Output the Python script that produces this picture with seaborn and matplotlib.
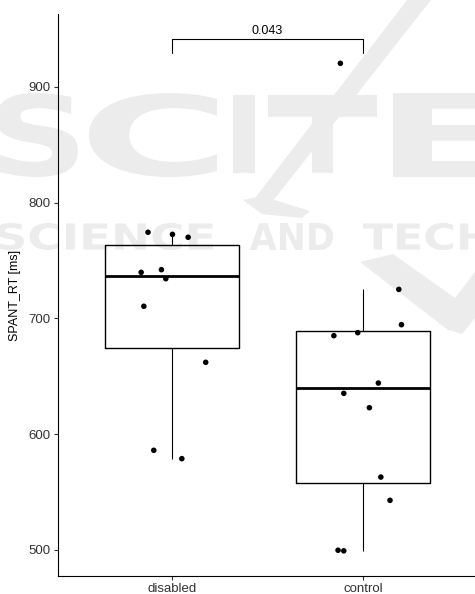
import numpy as np
import pandas as pd
import matplotlib
matplotlib.use('Agg')
import matplotlib.pyplot as plt
import seaborn as sns
from matplotlib.textpath import TextPath
from matplotlib.patches import PathPatch, Polygon
from matplotlib.font_manager import FontProperties
from matplotlib.transforms import Affine2D

# values
groups = ['disabled', 'control']
disabled_rt = [774.3, 772.5, 770.0, 742.0, 739.7, 734.2, 710.4, 662.0, 586.0, 578.8]
disabled_jit = [-0.126, 0.002, 0.084, -0.056, -0.162, -0.033, -0.148, 0.176, -0.096, 0.051]
control_rt = [920.2, 725.0, 694.5, 687.6, 685.0, 644.1, 635.2, 622.8, 562.9, 542.8, 499.7, 499.2]
control_jit = [-0.119, 0.187, 0.201, -0.028, -0.153, 0.080, -0.101, 0.033, 0.093, 0.141, -0.131, -0.101]
p_label = '0.043'

df = pd.DataFrame({
    'group': ['disabled'] * len(disabled_rt) + ['control'] * len(control_rt),
    'SPANT_RT': disabled_rt + control_rt,
    'jit': disabled_jit + control_jit,
})
df['pos'] = df['group'].map({g: i for i, g in enumerate(groups)})
df['x'] = df['pos'] + df['jit']

sns.set_theme(style='ticks')
plt.rcParams['font.family'] = ['Liberation Sans', 'DejaVu Sans']

W, H = 475, 594
fig = plt.figure(figsize=(W / 100, H / 100), dpi=100)
ax = fig.add_axes([57.5 / W, (H - 576.3) / H, (W - 57.5) / W, (576.3 - 14) / H])
ax.set_facecolor('none')

# faint publisher watermark behind the plot (pixel coords, from top-left)
wm_color = '#ececec'
wm_font = FontProperties(family='DejaVu Sans', weight='bold')

def stamp(text, left, top, right, bottom):
    path = TextPath((0, 0), text, size=1, prop=wm_font)
    ext = path.get_extents()
    tr = (Affine2D().translate(-ext.x0, -ext.y0)
          .scale((right - left) / ext.width / W, (bottom - top) / ext.height / H)
          .translate(left / W, 1 - bottom / H))
    fig.patches.append(PathPatch(tr.transform_path(path), transform=fig.transFigure,
                                 fc=wm_color, ec='none', zorder=-5))

def blob(pts):
    xy = [(x / W, 1 - y / H) for x, y in pts]
    fig.patches.append(Polygon(xy, closed=True, transform=fig.transFigure,
                               fc=wm_color, ec='none', zorder=-5))

for ch, l, r in [('S', -4, 78), ('C', 89, 217), ('E', 393, 500)]:
    stamp(ch, l, 93, r, 177)
blob([(233, 95), (255, 95), (255, 173), (233, 173)])          # I
blob([(268, 95), (377, 95), (377, 117), (268, 117)])          # T bar
blob([(312, 117), (333, 117), (333, 173), (312, 173)])        # T stem
blob([(407, 0), (431, 0), (272, 202), (252, 202)])            # slash
blob([(243, 200), (262, 196), (310, 211), (302, 218), (262, 214)])
blob([(360, 262), (393, 254), (455, 298), (475, 272), (475, 318),
      (462, 334), (448, 330)])
stamp('SCIENCE', -3, 223, 213, 250)
stamp('AND', 250, 223, 333, 250)
stamp('TECHNOLOGY', 363, 223, 700, 250)

sns.boxplot(data=df, x='pos', y='SPANT_RT', native_scale=True, width=0.7,
            fill=False, color='black', linecolor='black', linewidth=1.0,
            showfliers=False, showcaps=False,
            medianprops=dict(linewidth=2.0), whiskerprops=dict(linewidth=0.8),
            ax=ax)
sns.scatterplot(data=df, x='x', y='SPANT_RT', color='black', s=16,
                edgecolor='none', zorder=3, ax=ax)

# significance bracket
y_bar, y_tip = 940.9, 928.8
ax.plot([0, 0, 1, 1], [y_tip, y_bar, y_bar, y_tip], color='black', lw=0.8)
ax.text(0.5, 945.5, p_label, ha='center', va='baseline', fontsize=9, color='black')

ax.set_xlim(-0.6, 1.586)
ax.set_ylim(477.2, 962.8)
ax.set_xticks([0, 1], groups)
ax.set_yticks([500, 600, 700, 800, 900])
ax.set_xlabel('')
ax.set_ylabel('SPANT_RT [ms]', fontsize=9, color='black', labelpad=5)
sns.despine(ax=ax)
for s in ['left', 'bottom']:
    ax.spines[s].set_linewidth(0.8)
    ax.spines[s].set_color('black')
ax.tick_params(length=3, width=0.8, color='#333333', pad=2,
               labelsize=9.5, labelcolor='#333333')

fig.savefig('out.png', dpi=100)
